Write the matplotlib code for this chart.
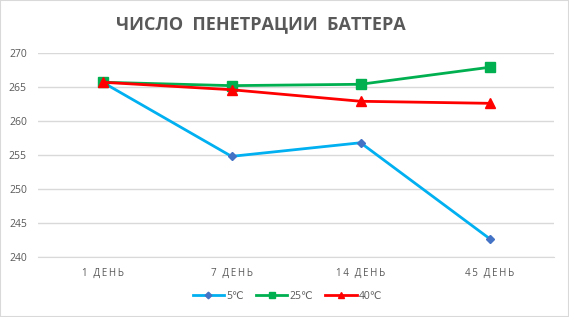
import matplotlib
matplotlib.use('Agg')
from matplotlib import pyplot as plt

categories = ['1 ДЕНЬ', '7 ДЕНЬ', '14 ДЕНЬ', '45 ДЕНЬ']
t5 = [265.7, 254.8, 256.8, 242.7]
t25 = [265.7, 265.2, 265.4, 267.9]
t40 = [265.7, 264.6, 262.9, 262.6]
yticks = [240, 245, 250, 255, 260, 265, 270]

plt.rcParams['font.family'] = ['Open Sans', 'DejaVu Sans']
grey = '#595959'


def spaced(s, gap='\u2009'):
    # imitate Excel's letter spacing
    return gap.join(list(s))


fig = plt.figure(figsize=(5.69, 3.17), dpi=100)
fig.patches.append(plt.Rectangle((0, 0), 1, 1, transform=fig.transFigure,
                                 fill=False, edgecolor='#d9d9d9', lw=1.5))
ax = fig.add_axes([0.0668, 0.1893, 0.907, 0.6435])

x = range(len(categories))
ax.plot(x, t5, color='#00B0F0', lw=2, marker='D', ms=4.5,
        mfc='#4472C4', mec='#4472C4', label='5℃', zorder=3)
ax.plot(x, t25, color='#00B050', lw=2, marker='s', ms=6.5,
        mfc='#00B050', mec='#00B050', label='25℃', zorder=3)
ax.plot(x, t40, color='#FF0000', lw=2, marker='^', ms=6.5,
        mfc='#FF0000', mec='#FF0000', label='40℃', zorder=4)

ax.set_xlim(-0.5, 3.5)
ax.set_ylim(240, 270)
ax.set_yticks(yticks)
ax.set_xticks(list(x))
ax.set_xticklabels([spaced(c) for c in categories], fontsize=7, color=grey)
ax.tick_params(axis='y', labelsize=7.5, labelcolor=grey, length=0, pad=8)
ax.tick_params(axis='x', length=0, pad=8)
ax.grid(axis='y', color='#d9d9d9', lw=1)
ax.set_axisbelow(True)
for s in ['top', 'right', 'left']:
    ax.spines[s].set_visible(False)
ax.spines['bottom'].set_color('#d9d9d9')

fig.text(0.458, 0.925, 'ЧИСЛО  ПЕНЕТРАЦИИ  БАТТЕРА', ha='center', va='center',
         fontsize=13, fontweight='bold', color=grey)

fig.legend(loc='center', bbox_to_anchor=(0.505, 0.065), ncol=3, frameon=False,
           fontsize=7.5, labelcolor=grey, handlelength=3, columnspacing=1.2,
           handletextpad=0.2, markerscale=0.75)

fig.savefig('out.png', dpi=100)
